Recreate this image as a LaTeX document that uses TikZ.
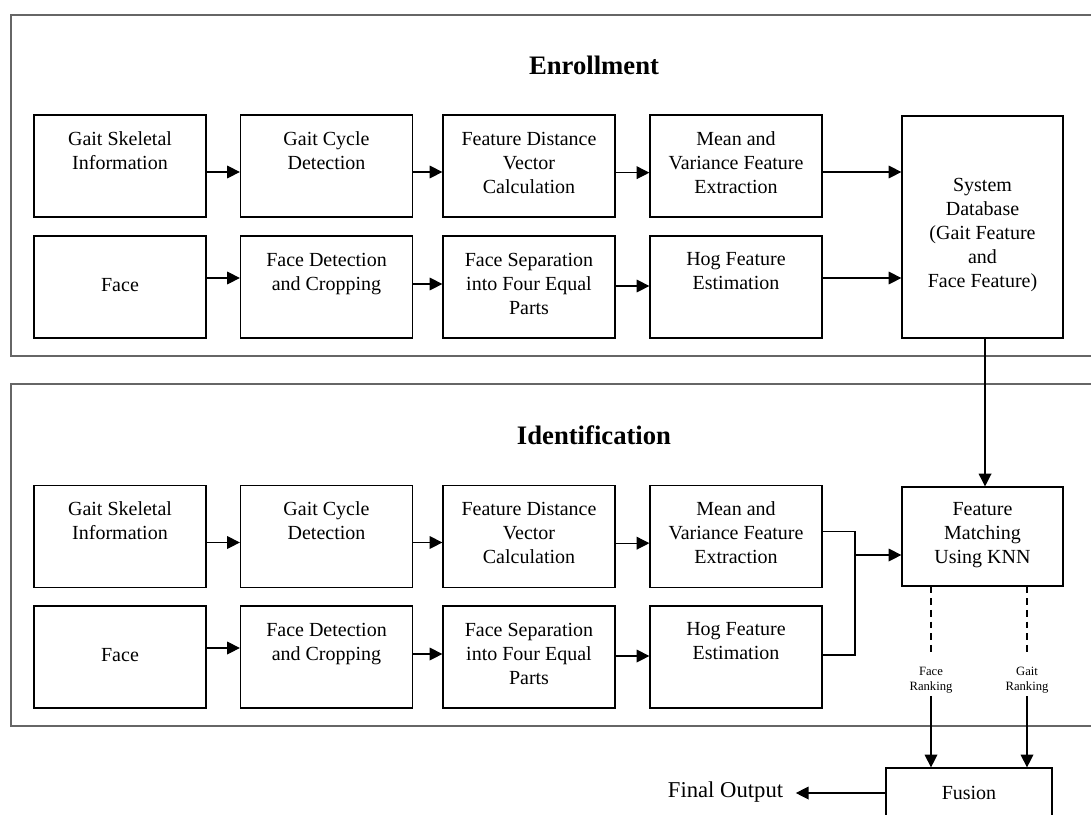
\documentclass[tikz,border=0pt]{standalone}
\usepackage{fontspec}
\setmainfont{Liberation Serif}
\usetikzlibrary{arrows.meta}

\tikzset{
  stage/.style={draw=black!60, line width=1.5pt},
  block/.style={draw, line width=0.95pt, minimum width=129pt, minimum height=76.5pt,
    align=center, inner sep=0pt, font=\fontsize{15}{18}\selectfont},
  arr/.style={-{Triangle[length=9.5pt,width=9.5pt]}, line width=0.9pt},
  link/.style={line width=0.9pt},
  dashlink/.style={line width=0.9pt, dash pattern=on 5pt off 3.75pt},
  heading/.style={font=\fontsize{20}{24}\selectfont\bfseries},
  rank/.style={font=\fontsize{9.5}{11.25}\selectfont, align=center, inner sep=2pt},
}

\begin{document}
\begin{tikzpicture}[x=0.75pt, y=-0.75pt]
  \useasboundingbox (0,0) rectangle (1091,814);
  \clip (0,0) rectangle (1091,814);

  % stage frames
  \draw[stage] (11,15) rectangle (1120,356);
  \draw[stage] (11,384) rectangle (1120,726);
  \node[heading] (enrolltitle) at (594,65) {Enrollment};
  \node[heading] (identtitle) at (594,435) {Identification};

  % enrollment pipeline
  \node[block] (e11) at (120,166)   {Gait Skeletal\\Information\\\strut};
  \node[block] (e12) at (326.5,166) {Gait Cycle\\Detection\\\strut};
  \node[block] (e13) at (529,166)   {Feature Distance\\Vector\\Calculation\strut};
  \node[block] (e14) at (736,166)   {Mean and\\Variance Feature\\Extraction\strut};
  \node[block] (e21) at (120,287)   {Face\strut};
  \node[block] (e22) at (326.5,287) {Face Detection\\and Cropping\\\strut};
  \node[block] (e23) at (529,287)   {Face Separation\\into Four Equal\\Parts\strut};
  \node[block] (e24) at (736,287)   {Hog Feature\\Estimation\\\strut};
  \node[block, minimum width=120.75pt, minimum height=166.5pt,
        label={[name=dbtext, align=center, font=\fontsize{15}{18}\selectfont, yshift=-6pt]center:{System\\Database\\(Gait Feature\\and\\Face Feature)}}]
        (db) at (982.5,227) {};

  % identification pipeline
  \node[block] (i11) at (120,536.5)   {Gait Skeletal\\Information\\\strut};
  \node[block] (i12) at (326.5,536.5) {Gait Cycle\\Detection\\\strut};
  \node[block] (i13) at (529,536.5)   {Feature Distance\\Vector\\Calculation\strut};
  \node[block] (i14) at (736,536.5)   {Mean and\\Variance Feature\\Extraction\strut};
  \node[block] (i21) at (120,657)     {Face\strut};
  \node[block] (i22) at (326.5,657)   {Face Detection\\and Cropping\\\strut};
  \node[block] (i23) at (529,657)     {Face Separation\\into Four Equal\\Parts\strut};
  \node[block] (i24) at (736,657)     {Hog Feature\\Estimation\\\strut};
  \node[block, minimum width=120.75pt, minimum height=74.25pt] (fm) at (982.5,536.5)
        {Feature\\Matching\\Using KNN\strut};

  % ranking outputs and fusion
  \node[rank] (fr) at (931,680)  {Face\\Ranking};
  \node[rank] (gr) at (1027,680) {Gait\\Ranking};
  \node[block, minimum width=124.5pt, minimum height=37.5pt] (fusion) at (969,793) {Fusion};
  \node[font=\fontsize{17}{20}\selectfont] (out) at (725.5,792) {Final Output};

  % enrollment connectors
  \draw[arr] ([yshift=-4.5pt]e11.east) -- ([yshift=-4.5pt]e12.west);
  \draw[arr] ([yshift=-4.5pt]e12.east) -- ([yshift=-4.5pt]e13.west);
  \draw[arr] ([yshift=-5pt]e13.east) -- ([yshift=-5pt]e14.west);
  \draw[arr] ([yshift=-4.5pt]e14.east) -- ([yshift=-4.5pt]e14.east -| db.west);
  \draw[arr] ([yshift=6.75pt]e21.east) -- ([yshift=6.75pt]e22.west);
  \draw[arr] ([yshift=2.25pt]e22.east) -- ([yshift=2.25pt]e23.west);
  \draw[arr] ([yshift=0.75pt]e23.east) -- ([yshift=0.75pt]e24.west);
  \draw[arr] ([yshift=6.75pt]e24.east) -- ([yshift=6.75pt]e24.east -| db.west);

  % database feeds the matcher
  \draw[arr] ([xshift=1.9pt]db.south) -- ([xshift=1.9pt]db.south |- fm.north);

  % identification connectors
  \draw[arr] ([yshift=-4.5pt]i11.east) -- ([yshift=-4.5pt]i12.west);
  \draw[arr] ([yshift=-4.5pt]i12.east) -- ([yshift=-4.5pt]i13.west);
  \draw[arr] ([yshift=-5pt]i13.east) -- ([yshift=-5pt]i14.west);
  \draw[arr] ([yshift=6.75pt]i21.east) -- ([yshift=6.75pt]i22.west);
  \draw[arr] ([yshift=2.25pt]i22.east) -- ([yshift=2.25pt]i23.west);
  \draw[arr] ([yshift=0.75pt]i23.east) -- ([yshift=0.75pt]i24.west);
  \coordinate (merge) at (855,555);
  \draw[link] ([yshift=4pt]i14.east) -| (merge) |- ([yshift=1.5pt]i24.east);
  \draw[arr] (merge) -- (merge -| fm.west);

  % rankings into fusion
  \draw[dashlink, shorten >=8pt] (fr.north |- fm.south) -- (fr.north);
  \draw[dashlink, shorten >=8pt] (gr.north |- fm.south) -- (gr.north);
  \draw[arr] (fr.south) -- (fr.south |- fusion.north);
  \draw[arr] (gr.south) -- (gr.south |- fusion.north);
  \draw[arr, shorten >=6pt] (fusion.west) -- (fusion.west -| out.east);
\end{tikzpicture}
\end{document}
